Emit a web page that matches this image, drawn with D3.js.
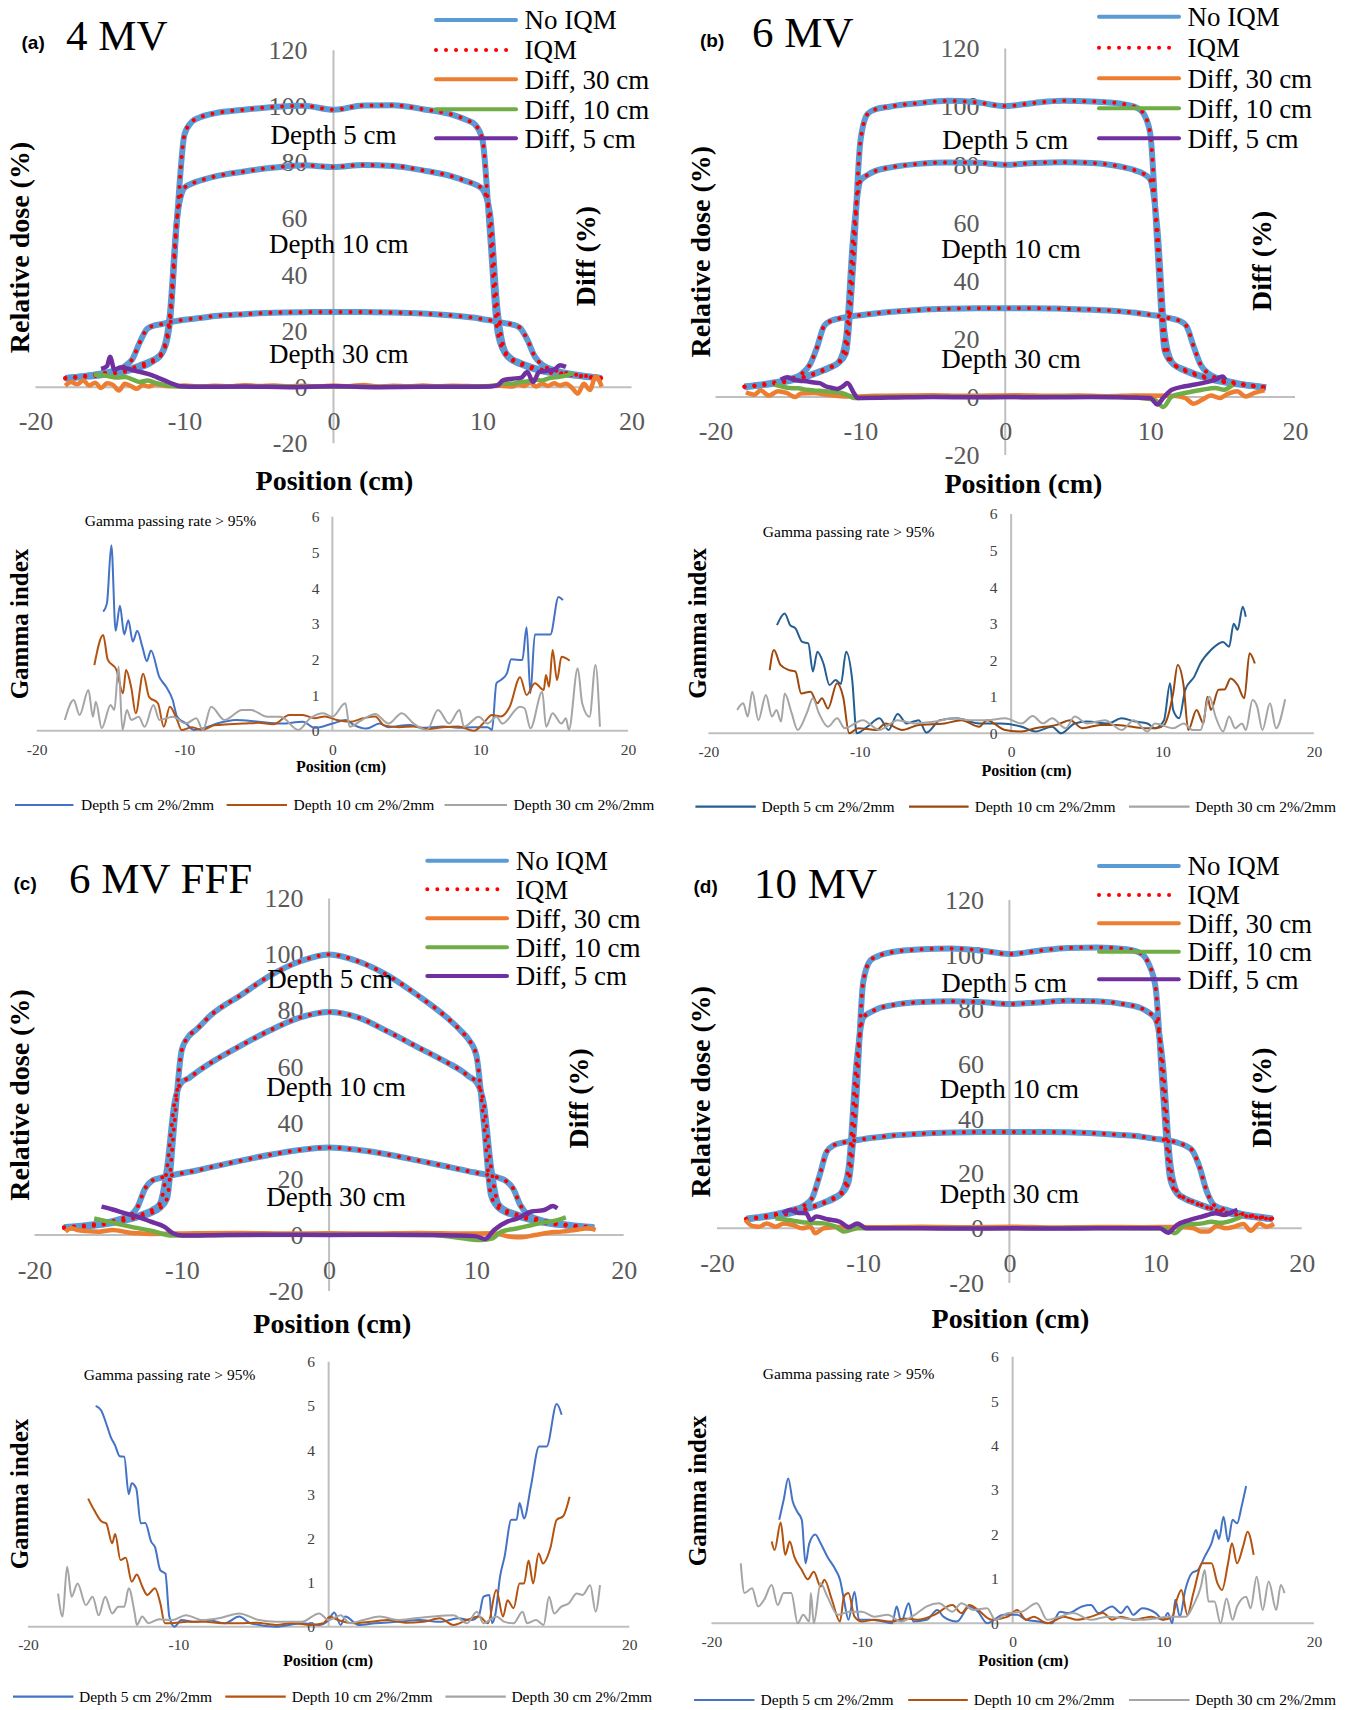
<!DOCTYPE html>
<meta charset="utf-8">
<style>
  body { margin: 0; background: #fff; }
  svg { display: block; background: #fff; }
</style>
<svg width="1352" height="1710"></svg>
<script src="https://d3js.org/d3.v7.min.js"></script>
<script>

    // ---- profile data (relative dose %) ----
    var profPos = [-18, -17, -16, -15, -14, -13.5, -13, -12.5, -12, -11.5, -11, -10.5, -10, -9.5, -9, -8, -6, -4, -2, 0,
        2, 4, 6, 8, 9, 9.5, 10, 10.5, 11, 11.5, 12, 12.5, 13, 13.5, 14, 15, 16, 17, 18];

    var a_d5 = [3.0, 3.5, 4.0, 4.7, 5.5, 6.2, 7.0, 8.0, 9.5, 12, 22, 60, 90, 94.5, 96, 97.5, 98.8, 99.8, 100.2, 98.8,
        100.3, 100.4, 99, 97, 95, 93.5, 88, 55, 20, 12, 9.5, 8.2, 7.2, 6.3, 5.6, 4.8, 4.2, 3.6, 3.1];
    var a_d10 = [3.2, 3.7, 4.3, 5.0, 6.0, 6.8, 7.8, 8.8, 10.0, 12.5, 25, 60, 71, 72.5, 73.5, 75, 76.8, 78.2, 79, 78.4,
        79.1, 78.8, 77.2, 75, 73.2, 72.2, 70.5, 62, 28, 13, 10, 8.8, 7.8, 6.9, 6.2, 5.2, 4.4, 3.8, 3.2];
    var a_d30 = [3.3, 3.8, 4.5, 5.5, 7.5, 10, 16, 20.8, 22, 22.5, 23.2, 23.6, 24, 24.3, 24.6, 25.3, 26, 26.5, 26.7, 26.8,
        26.8, 26.6, 26.2, 25.5, 25, 24.7, 24.2, 23.8, 23.3, 22.8, 22.3, 21.2, 17, 11, 8, 5.8, 4.7, 3.9, 3.3];

    var b_d5 = [3.5, 4, 4.6, 5.4, 6.6, 7.3, 8.2, 9.2, 10.3, 11.8, 15, 45, 88, 97.5, 99, 100, 101.2, 102, 101.5, 100.2,
        101.3, 102, 101.8, 101, 99.8, 98, 91, 52, 16, 11.8, 10.2, 9.2, 8.2, 7.4, 6.6, 5.5, 4.6, 3.9, 3.3];
    var b_d10 = [3.5, 4.0, 4.7, 5.6, 6.8, 7.6, 8.5, 9.5, 10.5, 12, 20, 55, 74.5, 76.5, 77.8, 79, 80.3, 80.8, 80.7, 80,
        80.6, 80.9, 80.6, 79.3, 78, 77, 75, 58, 22, 12, 10, 8.8, 7.8, 7.0, 6.3, 5.2, 4.4, 3.8, 3.3];
    var b_d30 = [3.6, 4.2, 5, 6, 8.2, 11, 17, 24.5, 26.3, 27, 27.5, 27.9, 28.2, 28.5, 28.8, 29.3, 30, 30.4, 30.6, 30.6,
        30.6, 30.4, 30.1, 29.5, 29, 28.7, 28.3, 28, 27.5, 27, 26.3, 24.5, 17.5, 11, 8.2, 6, 4.8, 4, 3.4];

    var c_d5 = [2.5, 2.8, 3.3, 4.0, 5, 5.6, 6.3, 7, 8, 9.5, 13, 40, 66, 71, 73.3, 78.5, 85.5, 92.5, 97.5, 100,
        97.5, 92.5, 85.5, 77.5, 72.5, 69.5, 64, 40, 14, 9.6, 8, 7.1, 6.3, 5.6, 5.0, 4.0, 3.4, 2.9, 2.5];
    var c_d10 = [2.6, 3.0, 3.5, 4.2, 5.3, 6, 6.8, 7.8, 9, 11, 24, 47, 54.5, 56, 58, 61.5, 67.5, 73, 77.5, 79.5,
        77.5, 72.5, 67, 61.5, 58.5, 56.5, 54.5, 47, 24, 11, 8.8, 7.8, 6.9, 6.1, 5.4, 4.3, 3.6, 3.0, 2.6];
    var c_d30 = [2.8, 3.2, 3.8, 4.6, 6, 7, 10, 16.5, 19.4, 20.3, 21, 21.5, 22, 22.5, 23, 24.2, 26.5, 28.6, 30.3, 31.2,
        30.3, 28.7, 26.6, 24.4, 23.3, 22.7, 22.2, 21.7, 21.2, 20.4, 19.3, 16.5, 10.5, 7.2, 6, 4.6, 3.8, 3.2, 2.8];

    var d_d5 = [3.3, 3.9, 4.6, 5.4, 6.8, 7.6, 8.6, 9.6, 10.8, 12.5, 17, 45, 90, 98, 99.5, 101, 102, 102.3, 101.6, 100.3,
        101.5, 102.5, 102.7, 102, 100.5, 97, 88, 50, 18, 12.5, 10.8, 9.6, 8.6, 7.6, 6.8, 5.5, 4.6, 3.9, 3.3];
    var d_d10 = [3.3, 4.0, 4.8, 5.7, 7.0, 7.8, 8.8, 9.9, 11.2, 13, 22, 58, 77, 79, 80.3, 81.6, 82.7, 83, 82.7, 82,
        82.6, 83.2, 83, 81.8, 80.5, 79, 76.5, 60, 24, 13, 11, 9.8, 8.8, 7.8, 7, 5.7, 4.8, 4, 3.3];
    var d_d30 = [3.5, 4.2, 5.2, 6.5, 8.5, 11, 19, 28, 30.4, 31.2, 31.8, 32.2, 32.6, 33, 33.3, 33.9, 34.6, 35, 35.2, 35.2,
        35.2, 35.1, 34.7, 34, 33.5, 33.1, 32.7, 32.4, 32, 31.3, 30.3, 28.5, 22.5, 13.5, 8.5, 6.5, 5.2, 4.3, 3.6];

    // ---- Diff curves [position, diff] ----
    var a_diff5 = [[-15.6, 6.5], [-15.2, 7.5], [-15.0, 10.8], [-14.7, 6.2], [-14.3, 7.0], [-13.8, 6.6], [-13.3, 5.8], [-12.8, 5.2], [-12.3, 4.5], [-11.8, 3.4], [-11.3, 2.3], [-10.8, 1.2], [-10.3, 0.3], [-9, 0.1], [-6, 0.2], [-3, 0], [0, 0.3], [3, 0], [6, 0.1], [9, 0.1], [10.5, 0.2], [11.0, 0.6], [11.4, 2.5], [12.0, 3.0], [12.6, 3.4], [13.0, 5.4], [13.4, 1.8], [13.8, 5.4], [14.3, 5.8], [14.8, 6.2], [15.2, 7.8], [15.6, 7.2]];
    var a_diff10 = [[-16.1, 4.5], [-15.5, 4.2], [-15, 3.8], [-14.5, 3.4], [-14, 3.6], [-13.5, 2.8], [-13, 1.8], [-12.5, 2.4], [-12, 1.6], [-11.5, 1.0], [-11, 0.5], [-10.5, 0.2], [-8, 0.1], [-4, 0.2], [0, 0.1], [4, 0.1], [8, 0.2], [10.5, 0.3], [11, 0.8], [11.5, 1.4], [12, 1.2], [12.5, 1.8], [13, 2.0], [13.5, 2.6], [14, 2.4], [14.5, 3.2], [15, 3.6], [15.5, 4.0], [16.1, 5.0]];
    var a_diff30 = [[-18, 0.5], [-17.6, 1.8], [-17.2, 1.0], [-16.8, 2.4], [-16.4, 0.6], [-16, 1.6], [-15.6, -0.3], [-15.2, 1.4], [-14.8, 0.8], [-14.4, -1.2], [-14, 1.2], [-13.6, 0.4], [-13.2, -0.6], [-12.8, 0.8], [-12.4, 0.2], [-12, 1.0], [-11, 0.3], [-10, 0.6], [-9, 0.2], [-8, 0.5], [-7, 0.3], [-6, 0.7], [-5, 0.4], [-4, 0.6], [-3, 0.3], [-2, 0.5], [-1, 0.2], [0, 0.6], [1, 0.3], [2, 0.8], [3, 0.2], [4, 0.5], [5, 0.3], [6, 0.6], [7, 0.3], [8, 0.5], [9, 0.4], [10, 0.3], [11, 0.6], [12, 0.2], [12.4, 1.0], [12.8, 0.4], [13.2, 1.6], [13.6, 0.2], [14, 1.2], [14.4, 0.4], [14.8, 1.4], [15.2, 0.6], [15.6, 1.2], [16, -0.2], [16.4, -2.3], [16.8, 1.2], [17.2, -1.0], [17.6, 3.8], [18, 0.2]];

    var b_diff5 = [[-15.5, 6], [-15.06, 6.8], [-14.6, 6], [-14.2, 5.6], [-13.7, 5.4], [-13.2, 5.0], [-12.8, 4.8], [-12.4, 3.7], [-12, 3.2], [-11.6, 2.8], [-11.2, 3.7], [-10.9, 4.8], [-10.45, 1.4], [-10.2, -0.3], [-8, -0.2], [-5, 0], [-2, -0.1], [0, 0], [3, -0.1], [6, 0], [9, -0.2], [10.0, -0.3], [10.5, -2.6], [10.9, -0.3], [11.5, 2.5], [12.4, 3.7], [13.0, 4.2], [13.6, 4.8], [14.5, 6], [15.0, 7.1], [15.2, 6]];
    var b_diff10 = [[-15.9, 4.2], [-15.4, 3.6], [-14.9, 3.1], [-14.3, 3.0], [-13.7, 2.5], [-13, 2.2], [-12.5, 2.0], [-11.9, 1.8], [-11.3, 1.4], [-10.8, 0.5], [-10.45, -0.3], [-8, 0], [-4, 0.1], [0, 0], [4, 0.1], [8, 0], [10.3, -0.9], [10.9, -3.4], [11.5, 0.2], [12.4, 1.4], [13.0, 2.0], [13.6, 2.5], [14.5, 3.1], [15.1, 2.5], [15.7, 4.2]];
    var b_diff30 = [[-17.9, 1.6], [-17.3, 0.8], [-16.9, 2.3], [-16.3, 0.5], [-15.7, 2.0], [-15.1, 1.4], [-14.5, 0], [-14.1, 1.2], [-13.2, 1.4], [-12.3, 0.8], [-10.8, 0.2], [-9, 0.4], [-7, 0.5], [-5, 0.6], [-3, 0.4], [-1, 0.5], [1, 0.6], [3, 0.4], [5, 0.5], [7, 0.3], [9, 0.5], [11.5, 0.4], [12.4, -0.3], [13.0, -2.3], [13.6, -0.9], [14.2, 0.5], [14.8, -0.3], [15.4, 1.2], [16.0, 2.0], [16.6, 0.2], [17.2, 1.4], [17.9, 2.3]];

    var c_diff5 = [[-15.45, 10.1], [-14.7, 9.1], [-13.84, 7.7], [-13.0, 6.5], [-12.1, 4.75], [-11.2, 3.0], [-10.6, 0.6], [-10.0, -0.2], [-7, 0], [-4, 0.1], [0, 0], [4, 0.1], [7, 0], [9.9, -0.4], [10.6, -1.4], [11.2, 1.8], [12.1, 4.75], [12.8, 5.9], [13.7, 8.3], [14.6, 8.9], [15.2, 10.3], [15.5, 9.5]];
    var c_diff10 = [[-15.95, 5.9], [-14.7, 4.4], [-13.5, 3.0], [-12.1, 1.5], [-10.6, -0.2], [-7, 0], [0, 0.1], [7, 0], [10.35, -1.8], [11.1, -1.2], [11.7, 1.2], [12.8, 2.4], [14.3, 4.2], [15.5, 5.3], [16.07, 6.3]];
    var c_diff30 = [[-17.9, 1.2], [-17.5, 2.4], [-17.1, 1.8], [-16.5, 1.4], [-15.6, 1.2], [-14.7, 1.8], [-13.5, 0.8], [-12.9, 0.6], [-12.0, 0.4], [-9, 0.6], [-6, 0.7], [-3, 0.5], [0, 0.6], [3, 0.5], [6, 0.7], [9, 0.5], [11.2, 0.6], [12.3, -0.6], [13.1, -0.8], [14.0, 0], [14.9, 0.8], [15.8, 1.2], [16.7, 1.8], [17.6, 2.4], [18.1, 1.8]];

    var d_diff5 = [[-15.5, 5.5], [-15.0, 6.7], [-14.5, 5.7], [-13.9, 5.5], [-13.6, 3.0], [-13.2, 4.3], [-12.45, 3.3], [-11.6, 2.4], [-11.0, 0.4], [-10.4, 1.8], [-9.8, 0], [-6, 0], [-3, -0.1], [0, 0], [3, -0.1], [6, 0], [10.3, 0], [10.85, -1.6], [11.45, 1.2], [12.3, 3.0], [13.2, 4.3], [14.1, 5.5], [14.7, 4.9], [15.3, 6.1], [15.6, 6.7]];
    var d_diff10 = [[-16.0, 3.7], [-15.1, 3.0], [-13.9, 2.1], [-12.7, 1.8], [-11.9, 0.6], [-11.3, -1.2], [-10.4, 0], [-6, 0.1], [0, 0], [6, 0.1], [10.3, 0], [10.8, -0.4], [11.3, -1.8], [12.0, 1.2], [13.2, 1.8], [13.8, 2.4], [14.4, 2.0], [15.3, 3.0], [15.9, 4.3]];
    var d_diff30 = [[-18.05, 3.0], [-17.6, 0.9], [-17.1, 0.6], [-16.6, 1.8], [-16.0, 0.6], [-15.4, 1.8], [-14.8, 1.2], [-14.2, 0], [-13.6, 0.6], [-13.3, -1.8], [-12.7, 0], [-11.5, 0.6], [-9, 0.4], [-6, 0.6], [-3, 0.4], [0, 0.6], [3, 0.3], [6, 0.5], [9, 0.4], [11.5, 0.5], [12.6, 0], [13.1, -1.2], [13.6, -1.2], [14.2, 0.9], [14.8, 0], [15.4, 0.6], [16.0, 1.6], [16.5, -0.9], [17.1, 1.8], [17.6, 0.6], [18.1, 1.6]];

    // ---- Gamma index curves [position, gamma] ----
    var a_g5 = [[-15.5, 3.34], [-15.25, 3.57], [-14.95, 5.2], [-14.66, 2.8], [-14.37, 3.5], [-14.08, 2.7], [-13.8, 3.1], [-13.5, 2.5], [-13.2, 2.8], [-12.85, 2.35], [-12.55, 1.95], [-12.27, 2.25], [-11.7, 1.5], [-11.24, 1.23], [-10.8, 0.86], [-10.5, 0.39], [-9.9, 0.2], [-9.35, 0.02], [-8.5, 0.1], [-7.8, 0.2], [-6.5, 0.3], [-5.0, 0.25], [-3.5, 0.2], [-2.0, 0.25], [-1.2, 0.08], [0, 0.2], [0.9, 0.3], [1.5, 0.15], [2.3, 0.06], [3.2, 0.2], [3.8, 0.1], [5.2, 0.16], [6.0, 0.08], [7.5, 0.12], [8.5, 0.08], [9.5, 0.1], [10.5, 0.1], [10.8, 0.02], [11.1, 1.33], [11.4, 1.42], [11.8, 1.6], [12.1, 2.0], [12.85, 1.98], [13.14, 2.9], [13.4, 1.05], [13.7, 2.7], [14.3, 2.7], [14.75, 2.7], [15.3, 3.75], [15.6, 3.66]];
    var a_g10 = [[-16.1, 1.84], [-15.5, 2.68], [-15.2, 2.0], [-14.6, 1.7], [-14.16, 1.05], [-13.96, 1.7], [-13.6, 1.2], [-13.3, 0.49], [-12.8, 1.6], [-12.4, 0.95], [-11.8, 0.77], [-11.4, 0.11], [-11.0, 0.67], [-10.5, 0.3], [-10.2, 0.02], [-9.5, 0.1], [-8.8, 0.02], [-8, 0.15], [-7, 0.18], [-6, 0.2], [-5, 0.22], [-4, 0.18], [-2.9, 0.44], [-2.0, 0.44], [-1.2, 0.35], [-0.5, 0.4], [0.3, 0.3], [1.2, 0.25], [2.1, 0.35], [2.9, 0.4], [3.5, 0.15], [4.5, 0.1], [5.5, 0.12], [6.5, 0.05], [7.5, 0.1], [8.5, 0.12], [9.6, 0.0], [10.2, 0.2], [10.8, 0.44], [11.4, 0.4], [12.0, 0.67], [12.7, 1.5], [13.14, 1.0], [13.7, 1.33], [14.3, 1.14], [14.45, 1.56], [14.66, 1.23], [14.9, 2.26], [15.2, 1.42], [15.5, 2.07], [16.06, 1.96]];
    var a_g30 = [[-18.1, 0.3], [-17.5, 0.86], [-17.1, 0.44], [-16.5, 1.14], [-16.2, 0.39], [-16.0, 0.81], [-15.6, 0.07], [-15.0, 0.72], [-14.75, 0.58], [-14.46, 1.8], [-14.2, 0.02], [-13.9, 0.58], [-13.6, 0.3], [-13.1, 0.39], [-12.7, 0.11], [-12.1, 0.72], [-11.7, 0.3], [-10.8, 0.39], [-9.9, 0.2], [-9.2, 0.35], [-8.76, 0.02], [-8.2, 0.67], [-7.3, 0.3], [-6.1, 0.58], [-5.5, 0.58], [-4.4, 0.39], [-3.5, 0.39], [-2.3, 0.02], [-1.5, 0.35], [-0.6, 0.49], [0, 0.39], [0.88, 0.77], [1.17, 0.11], [2.0, 0.3], [2.9, 0.47], [3.8, 0.2], [4.7, 0.49], [5.5, 0.2], [6.4, 0.02], [7.15, 0.58], [7.9, 0.2], [8.6, 0.58], [8.9, 0.11], [9.9, 0.39], [10.5, 0.2], [11.1, 0.39], [11.5, 0.2], [12.7, 0.67], [13.0, 0.63], [13.4, 0.07], [14.2, 1.09], [14.46, 0.11], [14.9, 0.49], [15.5, 0.2], [15.8, 0.35], [16.0, 0.02], [16.6, 1.75], [16.9, 0.77], [17.4, 0.39], [17.8, 1.84], [18.1, 0.11]];

    var b_g5 = [[-15.47, 2.96], [-14.96, 3.28], [-14.6, 2.96], [-14.25, 2.87], [-13.8, 2.5], [-13.4, 2.46], [-13.1, 1.69], [-12.8, 2.23], [-12.4, 1.91], [-12.0, 1.32], [-11.6, 1.46], [-11.25, 1.35], [-10.9, 2.23], [-10.5, 1.46], [-10.2, 0], [-9.5, 0.18], [-8.7, 0.41], [-8.1, 0.09], [-7.5, 0.53], [-6.9, 0.27], [-6.1, 0.36], [-5.6, 0.02], [-4.7, 0.36], [-3.6, 0.41], [-2.1, 0.27], [-0.7, 0.27], [0.7, 0.18], [1.6, 0.05], [2.7, 0.18], [3.3, 0], [4.2, 0.27], [5.0, 0.32], [6.4, 0.27], [7.3, 0.41], [8.2, 0.32], [9.0, 0.27], [9.5, 0.14], [10.1, 0.36], [10.5, 1.37], [10.7, 0.64], [11.1, 0.41], [11.5, 1.19], [12.1, 1.55], [12.5, 1.91], [13.2, 2.28], [14.0, 2.5], [14.4, 2.37], [14.7, 3.0], [14.96, 2.83], [15.3, 3.46], [15.5, 3.19]];
    var b_g10 = [[-15.95, 1.73], [-15.67, 2.28], [-15.24, 1.87], [-14.67, 1.73], [-14.25, 1.69], [-13.87, 1.09], [-13.25, 1.14], [-12.8, 0.82], [-12.5, 0.96], [-12.1, 0.68], [-11.5, 1.37], [-11.1, 1.0], [-10.7, 0], [-10.1, 0.14], [-8.9, 0.09], [-8.3, 0.27], [-7.2, 0.09], [-6.1, 0.23], [-4.4, 0.27], [-3.3, 0.36], [-2.1, 0.18], [-1.6, 0.36], [-0.4, 0.09], [0.7, 0.05], [1.6, 0.14], [3.0, 0.23], [3.9, 0.36], [4.7, 0.14], [5.9, 0.23], [7.0, 0.23], [8.8, 0.14], [9.6, 0.14], [10.1, 0.23], [10.7, 1.09], [11.0, 1.87], [11.4, 1.28], [11.7, 0.09], [12.25, 0.64], [12.7, 0.27], [12.96, 1.0], [13.2, 0.64], [13.7, 1.19], [14.1, 1.2], [14.5, 1.5], [14.96, 1.32], [15.4, 0.96], [15.75, 2.19], [16.1, 1.91]];
    var b_g30 = [[-18.1, 0.64], [-17.7, 0.82], [-17.4, 0.46], [-17.1, 1.14], [-16.7, 0.36], [-16.2, 1.05], [-15.8, 0.46], [-15.5, 0.64], [-15.2, 0.32], [-14.96, 1.09], [-14.5, 0.55], [-14.1, 0.09], [-13.5, 0.55], [-13.1, 0.96], [-12.7, 0.55], [-12.1, 0.18], [-11.5, 0.41], [-11.0, 0.14], [-9.8, 0.36], [-8.7, 0.09], [-7.5, 0.36], [-6.4, 0.27], [-5.0, 0.32], [-3.8, 0.41], [-2.7, 0.36], [-1.6, 0.36], [-0.4, 0.41], [0.7, 0.27], [1.42, 0.47], [2.1, 0.27], [2.7, 0.41], [3.6, 0.14], [4.2, 0.46], [5.0, 0.27], [6.2, 0.36], [7.3, 0.09], [8.1, 0.36], [9.0, 0.05], [9.5, 0.27], [10.7, 0.14], [11.4, 0.27], [12.0, 0.09], [12.5, 0.09], [13.1, 1.0], [13.5, 0.46], [14.0, 0.05], [14.4, 0.46], [14.8, 0.14], [15.25, 0.27], [15.5, 0.09], [15.95, 0.91], [16.25, 0.73], [16.6, 0.09], [17.1, 0.82], [17.5, 0.14], [18.1, 0.93]];

    var c_g5 = [[-15.5, 5.0], [-15.14, 4.9], [-14.7, 4.5], [-14.5, 4.3], [-14.2, 4.1], [-13.9, 3.86], [-13.6, 3.85], [-13.3, 3.0], [-13.1, 3.25], [-12.8, 3.13], [-12.5, 2.34], [-12.2, 2.35], [-11.8, 1.92], [-11.55, 1.8], [-11.2, 1.28], [-10.86, 1.2], [-10.6, 0.23], [-10.26, 0], [-9.8, 0.15], [-8.9, 0.11], [-8.0, 0.15], [-6.9, 0.08], [-5.95, 0.23], [-5.2, 0.08], [-3.5, 0], [-1.8, 0.08], [-0.6, 0.04], [0, 0.15], [0.37, 0.32], [0.8, 0.04], [1.1, 0.23], [2.0, 0.04], [3.1, 0.08], [4.6, 0.11], [6.0, 0.15], [7.5, 0.11], [8.6, 0.19], [9.5, 0.15], [10.0, 0.26], [10.3, 0.68], [10.7, 0.72], [10.86, 0.08], [11.1, 0.3], [11.4, 1.13], [11.7, 1.58], [12.15, 2.42], [12.5, 2.42], [12.7, 2.8], [13.0, 2.45], [13.45, 3.17], [14.0, 4.08], [14.5, 4.08], [15.17, 5.04], [15.5, 4.8]];
    var c_g10 = [[-16.0, 2.9], [-15.6, 2.64], [-15.1, 2.38], [-14.8, 2.34], [-14.4, 1.89], [-14.2, 2.1], [-13.85, 1.51], [-13.5, 1.56], [-13.1, 1.02], [-12.76, 1.18], [-12.4, 0.91], [-12.07, 0.72], [-11.55, 0.87], [-11.2, 0.53], [-10.9, 0.08], [-10.5, 0.08], [-9.4, 0.11], [-8.2, 0.11], [-7.1, 0.08], [-5.95, 0.08], [-4.8, 0.09], [-3.5, 0.04], [-2.4, 0.08], [-1.2, 0.04], [-0.35, 0.08], [0.1, 0.23], [0.5, 0.17], [1.7, 0.08], [2.8, 0.11], [4.0, 0.15], [5.1, 0.09], [6.3, 0.11], [7.4, 0.19], [8.3, 0.04], [9.2, 0.15], [10.0, 0.23], [10.6, 0.08], [11.15, 0.83], [11.6, 0.23], [11.9, 0.6], [12.3, 0.42], [12.7, 0.98], [13.0, 0.98], [13.3, 1.5], [13.6, 0.98], [13.97, 1.66], [14.25, 1.43], [14.74, 1.77], [15.17, 2.42], [15.6, 2.5], [16.03, 2.94]];
    var c_g30 = [[-18.0, 0.75], [-17.7, 0.23], [-17.4, 1.36], [-17.1, 0.68], [-16.7, 0.98], [-16.15, 0.49], [-15.7, 0.68], [-15.3, 0.26], [-14.86, 0.68], [-14.4, 0.3], [-14.0, 0.45], [-13.6, 0.45], [-13.3, 0.87], [-12.9, 0.3], [-12.76, 0.04], [-12.4, 0.23], [-12.0, 0.08], [-11.26, 0.17], [-10.4, 0.15], [-9.5, 0.26], [-8.4, 0.15], [-7.3, 0.19], [-5.95, 0.3], [-4.65, 0.15], [-3.5, 0.11], [-1.8, 0.11], [-0.63, 0.3], [0, 0.15], [0.8, 0.26], [1.4, 0.08], [2.3, 0.15], [3.4, 0.23], [4.6, 0.15], [5.75, 0.19], [6.9, 0.23], [8.3, 0.26], [9.2, 0.08], [9.86, 0.34], [10.3, 0.08], [11.15, 0.23], [11.7, 0.11], [12.3, 0.08], [12.9, 0.34], [13.2, 0.08], [13.8, 0.15], [14.3, 0.04], [14.66, 0.68], [15.0, 0.3], [15.46, 0.45], [15.98, 0.53], [16.5, 0.75], [16.9, 0.72], [17.4, 0.94], [17.76, 0.34], [18.05, 0.94]];

    var d_g5 = [[-15.5, 2.33], [-15.2, 2.78], [-14.9, 3.26], [-14.6, 2.74], [-14.3, 2.51], [-14.0, 2.33], [-13.75, 1.35], [-13.5, 1.8], [-13.1, 2.0], [-12.75, 1.8], [-12.3, 1.5], [-11.75, 1.2], [-11.46, 0.98], [-11.2, 0.53], [-10.9, 0.08], [-10.5, 0.71], [-10.2, 0.08], [-9.5, 0.08], [-8.6, 0.04], [-8.0, 0.0], [-7.7, 0.38], [-7.4, 0.04], [-6.9, 0.45], [-6.6, 0.04], [-5.7, 0.08], [-5.0, 0.3], [-4.6, 0.15], [-3.7, 0.04], [-2.87, 0.38], [-2.3, 0.26], [-1.7, 0], [-0.6, 0.19], [0.3, 0.19], [0.9, 0.08], [1.7, 0.04], [2.6, 0], [3.15, 0.26], [3.7, 0.23], [4.6, 0.38], [5.2, 0.41], [5.7, 0.23], [6.6, 0.38], [7.2, 0.23], [7.6, 0.38], [8.0, 0.19], [8.6, 0.34], [9.5, 0.23], [10.0, 0.08], [10.3, 0.23], [10.6, 0], [10.8, 0.53], [11.1, 0.15], [11.46, 0.75], [11.9, 1.13], [12.3, 1.2], [12.75, 1.5], [13.2, 1.8], [13.5, 2.1], [13.7, 1.9], [14.0, 2.4], [14.3, 1.84], [14.6, 2.33], [14.9, 2.25], [15.2, 2.63], [15.5, 3.09]];
    var d_g10 = [[-16.0, 1.84], [-15.8, 1.65], [-15.4, 2.27], [-15.1, 1.54], [-14.8, 1.84], [-14.5, 1.5], [-14.0, 1.2], [-13.6, 0.99], [-13.2, 1.16], [-12.75, 0.83], [-12.5, 0.98], [-12.0, 0.53], [-11.46, 0.04], [-11.2, 0.6], [-10.9, 0.68], [-10.5, 0.15], [-10.0, 0.04], [-9.2, 0.08], [-8.0, 0.04], [-7.2, 0.11], [-6.3, 0.08], [-5.2, 0.19], [-4.0, 0.41], [-3.4, 0.23], [-2.87, 0.41], [-2.3, 0.3], [-1.4, 0.08], [-0.3, 0.15], [0.29, 0.3], [0.9, 0.08], [1.4, 0.15], [2.3, 0], [2.9, 0.08], [3.4, 0.15], [4.3, 0.08], [5.2, 0.15], [6.0, 0.23], [6.6, 0.08], [7.2, 0.15], [8.0, 0.08], [9.2, 0.15], [10.0, 0.08], [10.6, 0.15], [10.9, 0.53], [11.2, 0.75], [11.6, 0.19], [12.0, 0.68], [12.6, 1.35], [13.2, 1.35], [13.6, 0.9], [13.9, 0.75], [14.3, 1.35], [14.56, 1.8], [14.9, 1.35], [15.3, 1.73], [15.6, 2.06], [16.0, 1.54]];
    var d_g30 = [[-18.05, 1.35], [-17.8, 0.68], [-17.3, 0.79], [-16.9, 0.38], [-16.5, 0.53], [-16.0, 0.86], [-15.6, 0.41], [-15.2, 0.68], [-14.7, 0.68], [-14.27, 0], [-13.9, 0.19], [-13.5, 0.04], [-13.4, 0.68], [-13.2, 0], [-12.75, 0.9], [-12.3, 0.6], [-11.6, 0.19], [-10.9, 0.26], [-10.0, 0.26], [-9.2, 0.15], [-8.3, 0.19], [-7.4, 0.04], [-6.5, 0.19], [-5.7, 0.38], [-4.9, 0.45], [-4.0, 0.26], [-3.4, 0.45], [-2.6, 0.3], [-1.7, 0.34], [-1.15, 0.08], [-0.3, 0.23], [0.6, 0.26], [1.6, 0.45], [2.3, 0.08], [3.15, 0.15], [4.0, 0.23], [5.2, 0.08], [6.3, 0.15], [7.4, 0.11], [8.6, 0.08], [9.5, 0.11], [10.3, 0.15], [11.5, 0.15], [12.0, 0.41], [12.5, 0.83], [12.75, 1.2], [13.0, 0.49], [13.4, 0.49], [13.8, 0], [14.2, 0.56], [14.6, 0.08], [14.9, 0.38], [15.5, 0.6], [15.8, 0.34], [16.2, 1.05], [16.6, 0.3], [17.0, 0.94], [17.5, 0.3], [17.8, 0.86], [18.05, 0.68]];

    // ---- ticks and labels ----
    var posTicks = [-20, -10, 0, 10, 20];
    var doseTicks = [-20, 0, 20, 40, 60, 80, 100, 120];
    var gammaTicks = [0, 1, 2, 3, 4, 5, 6];
    var profLegend = ["No IQM", "IQM", "Diff, 30 cm", "Diff, 10 cm", "Diff, 5 cm"];
    var gammaLegend = ["Depth 5 cm 2%/2mm", "Depth 10 cm 2%/2mm", "Depth 30 cm 2%/2mm"];
    var depthNames = ["Depth 5 cm", "Depth 10 cm", "Depth 30 cm"];

    var SERIF = "'Liberation Serif','Times New Roman',serif";
    var SANS = "'Liberation Sans',Arial,sans-serif";
    var BLUE = "#5B9BD5", RED = "#FF0000", ORANGE = "#ED7D31", GREEN = "#70AD47", PURPLE = "#7030A0";
    var AXIS = "#BFBFBF";
    var DOTS = "0.01,10";

    var profilePanels = [
        {tag: "(a)", title: "4 MV", tagX: 21.5, tagY: 42, titleX: 66, titleY: 49.5,
            xr: [35.5, 631.5], yr: [443.3, 50.2], xLabY: 421, yLabRight: 307.5,
            legX: [436, 516, 524.5], legY: [20, 50, 79.3, 109.3, 138.3],
            relX: 19.4, relY: 247.5, difX: 585, difY: 256, posX: 334.5, posY: 480,
            depthAt: [[0, 89.8], [0.35, 51], [0.35, 12]],
            prof: [a_d5, a_d10, a_d30], diffs: [a_diff30, a_diff10, a_diff5]},
        {tag: "(b)", title: "6 MV", tagX: 700, tagY: 40, titleX: 752, titleY: 47,
            xr: [715.5, 1295], yr: [455.1, 48.6], xLabY: 431, yLabRight: 979.5,
            legX: [1099, 1179, 1187.4], legY: [16.7, 47.7, 78.3, 108.3, 138.3],
            relX: 699.7, relY: 251.7, difX: 1260.8, difY: 260.8, posX: 1023.4, posY: 483.3,
            depthAt: [[0, 88.7], [0.4, 51.2], [0.4, 13.3]],
            prof: [b_d5, b_d10, b_d30], diffs: [b_diff30, b_diff10, b_diff5]},
        {tag: "(c)", title: "6 MV FFF", tagX: 13.5, tagY: 883, titleX: 69, titleY: 893,
            xr: [34.5, 623.7], yr: [1291.1, 898.4], xLabY: 1270, yLabRight: 303.5,
            legX: [427.3, 507, 515.8], legY: [860.7, 889.3, 918.3, 947.3, 976],
            relX: 19.4, relY: 1095, difX: 578.3, difY: 1098.3, posX: 332.3, posY: 1323.3,
            depthAt: [[0.07, 91.5], [0.47, 52.9], [0.47, 13.6]],
            prof: [c_d5, c_d10, c_d30], diffs: [c_diff30, c_diff10, c_diff5]},
        {tag: "(d)", title: "10 MV", tagX: 693.5, tagY: 886.7, titleX: 754, titleY: 897.5,
            xr: [717, 1301.8], yr: [1283, 900.1], xLabY: 1263.3, yLabRight: 984,
            legX: [1099, 1178.8, 1187.4], legY: [866, 895, 923.3, 951.7, 979.3],
            relX: 699.7, relY: 1091.7, difX: 1260.8, difY: 1097.5, posX: 1010.5, posY: 1318.3,
            depthAt: [[-0.36, 89.8], [0, 51.2], [0, 12.8]],
            prof: [d_d5, d_d10, d_d30], diffs: [d_diff30, d_diff10, d_diff5]}
    ];

    var gammaPanels = [
        {xr: [36.7, 628], yr: [730.7, 516.7], xLabY: 750, yLabRight: 319.4,
            giX: 19.4, giY: 624, posX: 341, posY: 766.7, passX: 170.5, passY: 520.7,
            legY: 805, leg: [[15, 73.4, 81], [226.6, 287, 293.5], [444.5, 507, 513.6]],
            colors: ["#4472C4", "#B4530F", "#A5A5A5"], series: [a_g5, a_g10, a_g30]},
        {xr: [708.4, 1313.9], yr: [733.3, 514], xLabY: 751.7, yLabRight: 997.5,
            giX: 697.6, giY: 623.3, posX: 1026.5, posY: 770, passX: 848.6, passY: 531.7,
            legY: 806.7, leg: [[695.4, 755.8, 761.5], [909, 968.6, 974.7], [1129, 1189.6, 1195.2]],
            colors: ["#255E91", "#9E480E", "#A5A5A5"], series: [b_g5, b_g10, b_g30]},
        {xr: [28, 629.3], yr: [1626.7, 1361.7], xLabY: 1645, yLabRight: 315,
            giX: 19.4, giY: 1494, posX: 328, posY: 1660, passX: 169.6, passY: 1375,
            legY: 1696.7, leg: [[13, 73.4, 79], [225.3, 285.7, 291.8], [445.4, 505.8, 511.4]],
            colors: ["#4472C4", "#B4530F", "#A5A5A5"], series: [c_g5, c_g10, c_g30]},
        {xr: [711.4, 1313.9], yr: [1623.3, 1356.7], xLabY: 1641.7, yLabRight: 998.8,
            giX: 697.6, giY: 1490.8, posX: 1023.4, posY: 1660, passX: 848.6, passY: 1373.3,
            legY: 1700, leg: [[694, 754.5, 760.6], [908.2, 967.8, 973.8], [1129, 1189.6, 1195.2]],
            colors: ["#4472C4", "#B4530F", "#A5A5A5"], series: [d_g5, d_g10, d_g30]}
    ];

    var svg = d3.select("svg");

    function label(g, x, y, s, size, opt) {
        opt = opt || {};
        var t = g.append("text")
            .attr("x", x).attr("y", y)
            .attr("dy", opt.dy !== undefined ? opt.dy : "0.35em")
            .attr("font-family", opt.family || SERIF)
            .attr("font-size", size)
            .attr("font-weight", opt.bold ? "bold" : null)
            .attr("text-anchor", opt.anchor || "middle")
            .attr("fill", opt.fill || "#000")
            .text(s);
        if (opt.rotate) {
            t.attr("x", 0).attr("y", 0)
                .attr("transform", "translate(" + x + "," + y + ") rotate(-90)");
        }
        return t;
    }

    function axes(g, x, y, yTicks, fs, yLabRight, xLabY, color) {
        var x0 = x(0), y0 = y(0);
        var yd = y.domain(), xd = x.domain();
        g.append("line").attr("x1", x(xd[0])).attr("x2", x(xd[1])).attr("y1", y0).attr("y2", y0)
            .attr("stroke", AXIS).attr("stroke-width", 2);
        g.append("line").attr("x1", x0).attr("x2", x0).attr("y1", y(yd[0])).attr("y2", y(yd[1]))
            .attr("stroke", AXIS).attr("stroke-width", 2);

        var ya = g.append("g").attr("transform", "translate(" + x0 + ",0)")
            .call(d3.axisLeft(y).tickValues(yTicks).tickSize(0).tickPadding(x0 - yLabRight)
                .tickFormat(function (d) { return String(d); }));
        ya.select(".domain").remove();
        ya.attr("font-family", SERIF).attr("font-size", fs);
        ya.selectAll("text").attr("fill", color);

        var xa = g.append("g").attr("transform", "translate(0," + y0 + ")")
            .call(d3.axisBottom(x).tickValues(posTicks).tickSize(0).tickPadding(xLabY - y0 - 0.36 * fs)
                .tickFormat(function (d) { return String(d); }));
        xa.select(".domain").remove();
        xa.attr("font-family", SERIF).attr("font-size", fs);
        xa.selectAll("text").attr("fill", color);
    }

    // ---------- dose profile panels ----------
    profilePanels.forEach(function (c) {
        var g = svg.append("g");
        var x = d3.scaleLinear().domain([-20, 20]).range(c.xr);
        var y = d3.scaleLinear().domain([-20, 120]).range(c.yr);
        var yDiff = y.copy(); // secondary axis, same span

        axes(g, x, y, doseTicks, 26, c.yLabRight, c.xLabY, "#595959");

        var profLine = d3.line()
            .x(function (d, i) { return x(profPos[i]); })
            .y(function (d) { return y(d); })
            .curve(d3.curveMonotoneX);
        var diffLine = d3.line()
            .x(function (d) { return x(d[0]); })
            .y(function (d) { return yDiff(d[1]); })
            .curve(d3.curveMonotoneX);

        c.prof.forEach(function (vals) {
            g.append("path").attr("d", profLine(vals)).attr("fill", "none")
                .attr("stroke", BLUE).attr("stroke-width", 6).attr("stroke-linejoin", "round");
        });
        c.prof.forEach(function (vals) {
            g.append("path").attr("d", profLine(vals)).attr("fill", "none")
                .attr("stroke", RED).attr("stroke-width", 4)
                .attr("stroke-linecap", "round").attr("stroke-dasharray", DOTS);
        });
        var diffColors = [ORANGE, GREEN, PURPLE];
        c.diffs.forEach(function (pts, i) {
            g.append("path").attr("d", diffLine(pts)).attr("fill", "none")
                .attr("stroke", diffColors[i]).attr("stroke-width", 4.5).attr("stroke-linejoin", "round");
        });

        // depth annotations
        c.depthAt.forEach(function (p, i) {
            label(g, x(p[0]), y(p[1]), depthNames[i], 27);
        });

        // legend
        var legColors = [BLUE, RED, ORANGE, GREEN, PURPLE];
        profLegend.forEach(function (name, i) {
            var ly = c.legY[i];
            var l = g.append("line").attr("x1", c.legX[0]).attr("x2", c.legX[1]).attr("y1", ly).attr("y2", ly)
                .attr("stroke", legColors[i]).attr("stroke-width", 4).attr("stroke-linecap", "round");
            if (i === 1) l.attr("stroke-dasharray", DOTS);
            label(g, c.legX[2], ly, name, 27, {anchor: "start"});
        });

        // titles
        label(g, c.tagX, c.tagY, c.tag, 19, {anchor: "start", family: SANS, bold: true});
        label(g, c.titleX, c.titleY, c.title, 43, {anchor: "start", dy: 0});
        label(g, c.relX, c.relY, "Relative dose (%)", 28, {bold: true, rotate: true});
        label(g, c.difX, c.difY, "Diff (%)", 28, {bold: true, rotate: true});
        label(g, c.posX, c.posY, "Position (cm)", 28, {bold: true});
    });

    // ---------- gamma index panels ----------
    gammaPanels.forEach(function (c) {
        var g = svg.append("g");
        var x = d3.scaleLinear().domain([-20, 20]).range(c.xr);
        var y = d3.scaleLinear().domain([0, 6]).range(c.yr);

        axes(g, x, y, gammaTicks, 15.5, c.yLabRight, c.xLabY, "#404040");

        var gLine = d3.line()
            .x(function (d) { return x(d[0]); })
            .y(function (d) { return y(d[1]); })
            .curve(d3.curveMonotoneX);

        c.series.forEach(function (pts, i) {
            g.append("path").attr("d", gLine(pts)).attr("fill", "none")
                .attr("stroke", c.colors[i]).attr("stroke-width", 2).attr("stroke-linejoin", "round");
        });

        label(g, c.passX, c.passY, "Gamma passing rate > 95%", 15.5);
        label(g, c.giX, c.giY, "Gamma index", 25, {bold: true, rotate: true});
        label(g, c.posX, c.posY, "Position (cm)", 16, {bold: true});

        gammaLegend.forEach(function (name, i) {
            var L = c.leg[i];
            g.append("line").attr("x1", L[0]).attr("x2", L[1]).attr("y1", c.legY).attr("y2", c.legY)
                .attr("stroke", c.colors[i]).attr("stroke-width", 2.2);
            label(g, L[2], c.legY, name, 15.5, {anchor: "start"});
        });
    });

</script>
